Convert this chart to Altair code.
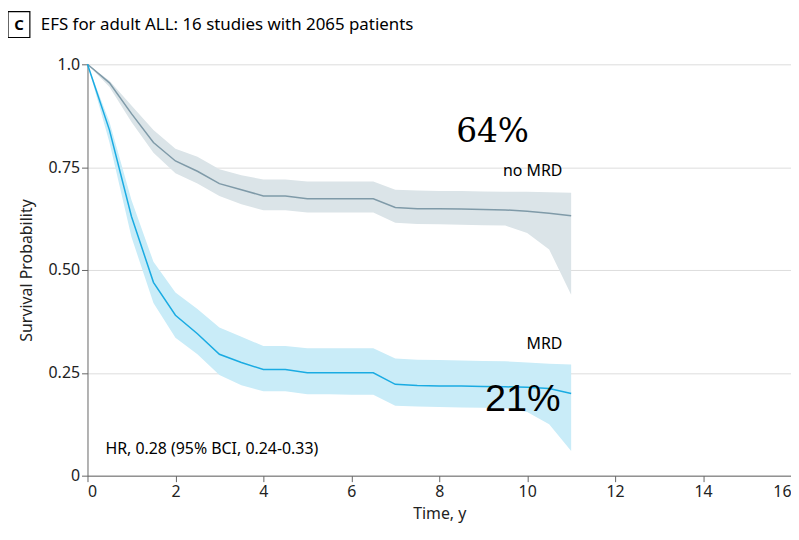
import pandas as pd
import altair as alt

time = [0, 0.5, 1, 1.5, 2, 2.5, 3, 3.5, 4, 4.5, 5, 5.5, 6, 6.5, 7, 7.5, 8, 8.5, 9, 9.5, 10, 10.5, 11]
nomrd = [1.0, 0.955, 0.88, 0.81, 0.765, 0.74, 0.71, 0.695, 0.68, 0.68, 0.673, 0.673, 0.673, 0.673, 0.652, 0.649, 0.649, 0.648, 0.647, 0.646, 0.643, 0.638, 0.632]
nomrd_lo = [1.0, 0.945, 0.86, 0.785, 0.735, 0.71, 0.68, 0.66, 0.645, 0.645, 0.64, 0.64, 0.64, 0.64, 0.615, 0.612, 0.611, 0.61, 0.609, 0.608, 0.59, 0.55, 0.44]
nomrd_hi = [1.0, 0.96, 0.9, 0.84, 0.795, 0.775, 0.745, 0.73, 0.72, 0.72, 0.715, 0.715, 0.715, 0.715, 0.695, 0.693, 0.692, 0.692, 0.691, 0.69, 0.69, 0.689, 0.688]
mrd = [1.0, 0.84, 0.63, 0.47, 0.39, 0.345, 0.295, 0.275, 0.258, 0.258, 0.25, 0.25, 0.25, 0.25, 0.222, 0.219, 0.218, 0.218, 0.217, 0.216, 0.215, 0.212, 0.2]
mrd_lo = [1.0, 0.81, 0.58, 0.42, 0.335, 0.295, 0.245, 0.22, 0.205, 0.205, 0.198, 0.198, 0.197, 0.197, 0.17, 0.168, 0.167, 0.166, 0.165, 0.164, 0.155, 0.125, 0.06]
mrd_hi = [1.0, 0.86, 0.67, 0.52, 0.445, 0.405, 0.36, 0.338, 0.315, 0.315, 0.31, 0.31, 0.31, 0.31, 0.285, 0.282, 0.281, 0.28, 0.279, 0.278, 0.275, 0.272, 0.27]

df = pd.DataFrame({"t": time, "n": nomrd, "nlo": nomrd_lo, "nhi": nomrd_hi,
                   "m": mrd, "mlo": mrd_lo, "mhi": mrd_hi})

FONT = "Noto Sans"
GRAY = "#7f9aa8"
BLUE = "#1aabe2"

x = alt.X("t:Q", scale=alt.Scale(domain=[0, 16], nice=False), title="Time, y",
          axis=alt.Axis(values=list(range(0, 17, 2)), grid=False, tickSize=6, titlePadding=6))
y = alt.Y("n:Q", scale=alt.Scale(domain=[0, 1]), title="Survival Probability",
          axis=alt.Axis(values=[0, 0.25, 0.5, 0.75, 1.0],
                        labelExpr="datum.value == 0 ? '0' : datum.value == 1 ? '1.0' : format(datum.value, '.2f')",
                        grid=True, tickSize=6, titlePadding=14))

base = alt.Chart(df)
band_n = base.mark_area(color="#dbe4e8").encode(x=x, y=alt.Y("nlo:Q", scale=alt.Scale(domain=[0, 1])), y2="nhi:Q")
band_m = base.mark_area(color="#c9ecf8").encode(x="t:Q", y="mlo:Q", y2="mhi:Q")
line_n = base.mark_line(color=GRAY, strokeWidth=1.5).encode(x=x, y=y)
line_m = base.mark_line(color=BLUE, strokeWidth=1.5).encode(x="t:Q", y="m:Q")

def txt(s, px, py, size, align="left", font=FONT, color="black", weight="normal"):
    return alt.Chart(pd.DataFrame({"s": [s]})).mark_text(
        align=align, baseline="middle", fontSize=size, font=font, color=color, fontWeight=weight
    ).encode(x=alt.value(px), y=alt.value(py), text="s:N")

box = alt.Chart(pd.DataFrame({"a": [0]})).mark_rect(
    fill="white", stroke="black", strokeWidth=1.2
).encode(x=alt.value(-80), x2=alt.value(-58), y=alt.value(-53), y2=alt.value(-27))

chart = alt.layer(
    band_n, band_m, line_n, line_m,
    txt("64%", 371, 68, 33, font="DejaVu Serif"),
    txt("no MRD", 478, 107, 16, align="right"),
    txt("MRD", 478, 282, 16, align="right"),
    txt("21%", 438, 338, 38, align="center", font="Liberation Sans"),
    txt("HR, 0.28 (95% BCI, 0.24-0.33)", 18, 387, 16),
    box,
    txt("C", -69, -40, 15, align="center", weight="bold"),
    txt("EFS for adult ALL: 16 studies with 2065 patients", -47, -40, 17),
).properties(
    width=708, height=414,
    autosize=alt.AutoSizeParams(type="none"),
    padding={"left": 80, "top": 55, "right": 0, "bottom": 51},
).configure_view(stroke=None).configure_axis(
    labelFont=FONT, titleFont=FONT, labelFontSize=16, titleFontSize=16,
    titleFontWeight="normal", labelColor="#222", titleColor="#222",
    domainColor="#666", tickColor="#666", gridColor="#dddddd"
)

chart.save("out.html", embed_options={"renderer": "svg", "actions": False})
